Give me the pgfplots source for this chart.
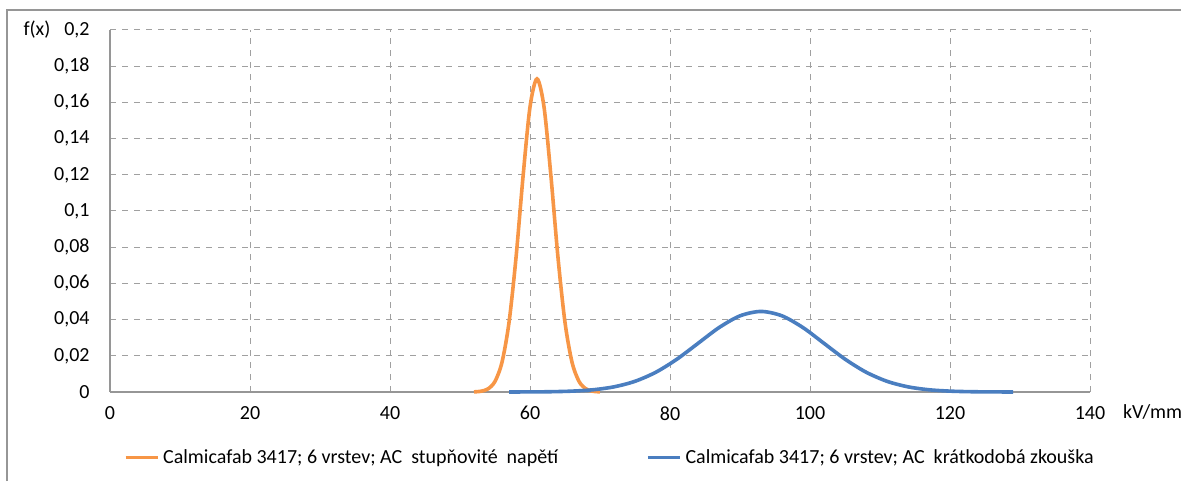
\documentclass[border=0pt]{standalone}
\usepackage{pgfplots}
\pgfplotsset{compat=1.18}
\usepackage{fontspec}
\setmainfont{Carlito}
\definecolor{orng}{RGB}{247,150,70}
\definecolor{blu}{RGB}{74,126,192}
\definecolor{gridc}{RGB}{160,160,160}
\definecolor{axc}{RGB}{150,150,150}
\begin{document}
\fontsize{10}{12}\selectfont
\begin{tikzpicture}
\useasboundingbox (0,0) rectangle (590.5pt,240.5pt);
\draw[axc, line width=0.8pt] (3.5pt,0) -- (3.5pt,235.5pt) -- (590.5pt,235.5pt);
\begin{axis}[
  at={(55pt,44.5pt)}, anchor=south west,
  scale only axis, width=490pt, height=181pt,
  xmin=0, xmax=140, ymin=0, ymax=0.2,
  axis x line=bottom, axis y line=left,
  axis line style={-, axc, line width=0.6pt},
  xtick={0,20,...,140}, ytick={0,0.02,...,0.2},
  yticklabels={0,{0,02},{0,04},{0,06},{0,08},{0,1},{0,12},{0,14},{0,16},{0,18},{0,2}},
  xticklabels={0,20,40,60,80,100,120,140},
  major tick length=0pt,
  tick label style={font=\fontsize{10}{12}\selectfont},
  /pgf/number format/assume math mode=true,
  yticklabel style={inner sep=0pt, xshift=-10pt},
  xticklabel style={inner sep=0pt, yshift=-7pt},
  grid=major,
  major grid style={gridc, dashed, line width=0.5pt},
  legend columns=2,
  legend style={at={(0.511,-0.182)}, anchor=center, draw=none, fill=none,
    font=\fontsize{10}{12}\selectfont, column sep=0pt,
    /tikz/every even column/.append style={column sep=42pt}},
  legend image code/.code={\draw[#1, line width=1.6pt] (0pt,0pt) -- (16pt,0pt);},
  clip=false,
]
\addplot[orng, line width=1.8pt, smooth] coordinates {
(52,0.000085) (53,0.00042) (54,0.00172) (55,0.00587) (56,0.01648) (57,0.0384)
(58,0.0742) (59,0.1188) (60,0.1575) (61,0.173) (62,0.1575) (63,0.1188)
(64,0.0742) (65,0.0384) (66,0.01648) (67,0.00587) (68,0.00172) (69,0.00042) (70,0.000085)
};
\addlegendentry{Calmicafab 3417; 6 vrstev; AC\ \ stupňovité\ \ napětí}
\addplot[blu, line width=1.8pt, smooth] coordinates {
(57,0.00001) (60,0.00005) (63,0.00016) (66,0.00048) (69,0.00123) (72,0.00285)
(75,0.00591) (78,0.01097) (81,0.01816) (84,0.02687) (87,0.03557) (90,0.04207)
(93,0.0445) (96,0.04207) (99,0.03557) (102,0.02687) (105,0.01816) (108,0.01097)
(111,0.00591) (114,0.00285) (117,0.00123) (120,0.00048) (123,0.00016) (126,0.00005) (129,0.00001)
};
\addlegendentry{Calmicafab 3417; 6 vrstev; AC\ \ krátkodobá zkouška}
\end{axis}
\node at (18.5pt,225.5pt) {f(x)};
\node[anchor=west] at (558pt,34.5pt) {kV/mm};
\end{tikzpicture}
\end{document}
